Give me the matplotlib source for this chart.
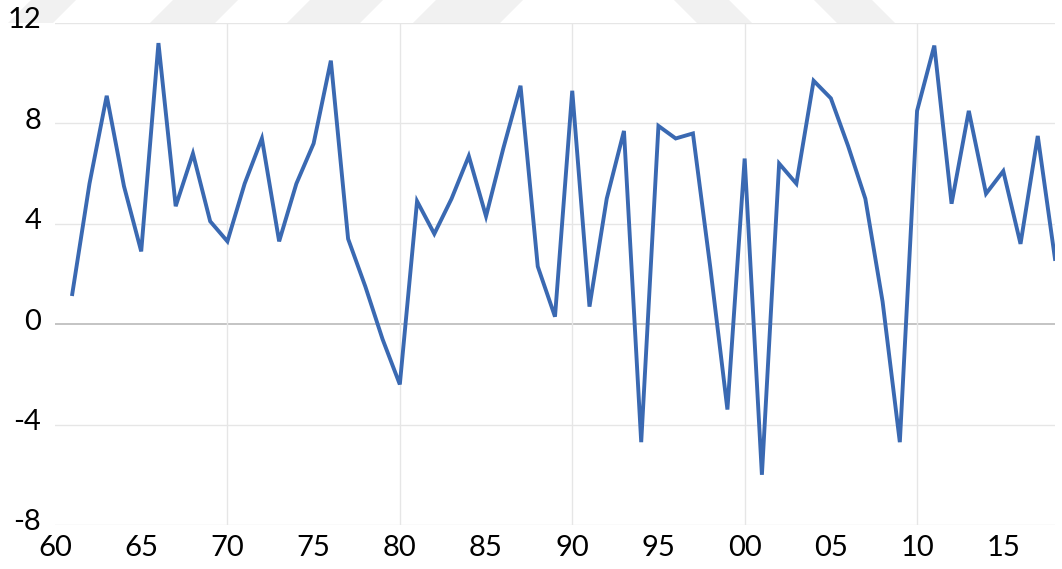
import matplotlib.pyplot as plt
from matplotlib.patches import Polygon
from matplotlib.transforms import ScaledTranslation

# annual growth rate, 1961-2018
years = list(range(1961, 2019))
growth = [1.2, 5.6, 9.1, 5.5, 2.9, 11.2, 4.7, 6.8, 4.1, 3.3,
          5.6, 7.4, 3.3, 5.6, 7.2, 10.5, 3.4, 1.5, -0.6, -2.4,
          4.9, 3.6, 5.0, 6.7, 4.3, 7.0, 9.5, 2.3, 0.3, 9.3,
          0.7, 5.0, 7.7, -4.7, 7.9, 7.4, 7.6, 2.3, -3.4, 6.6,
          -6.0, 6.4, 5.6, 9.7, 9.0, 7.1, 5.0, 0.9, -4.7, 8.5,
          11.1, 4.8, 8.5, 5.2, 6.1, 3.2, 7.5, 2.6]

xticks = list(range(1960, 2019, 5))
xlabels = ['%02d' % (y % 100) for y in xticks]
yticks = [-8, -4, 0, 4, 8, 12]

plt.rcParams['font.family'] = ['Lato', 'DejaVu Sans']
plt.rcParams['axes.unicode_minus'] = False

fig = plt.figure(figsize=(10.62, 5.69), dpi=100)
W, H = 1062, 569

# faint watermark stripes above the plot
stripes = [
    [(8, 23), (53, 23), (76, 0), (31, 0)],
    [(150, 23), (215, 23), (238, 0), (173, 0)],
    [(287, 23), (360, 23), (383, 0), (310, 0)],
    [(413, 23), (500, 23), (523, 0), (436, 0)],
    [(697, 23), (752, 23), (729, 0), (674, 0)],
    [(837, 23), (895, 23), (872, 0), (814, 0)],
]
for s in stripes:
    fig.patches.append(Polygon([(x / W, 1 - y / H) for x, y in s],
                               closed=True, transform=fig.transFigure,
                               facecolor='#f1f1f1', edgecolor='none', zorder=0))

ax = fig.add_axes([55 / W, 1 - 525 / H, 1000 / W, 502 / H])
ax.set_zorder(2)
ax.set_facecolor('white')

for y in yticks:
    ax.axhline(y, color='#bfbfbf' if y == 0 else '#e6e6e6', lw=1.3 if y == 0 else 1.0, zorder=1)
for x in range(1970, 2019, 10):
    ax.axvline(x, color='#e6e6e6', lw=1.0, zorder=1)

ax.plot(years, growth, color='#3a69b2', lw=2.8, zorder=3,
        solid_joinstyle='miter')

ax.set_xlim(1960, 2018)
ax.set_ylim(-8, 12)
ax.set_xticks(xticks)
ax.set_xticklabels(xlabels)
ax.set_yticks(yticks)
ax.tick_params(axis='both', length=0, labelsize=21, colors='black')
ax.tick_params(axis='x', pad=7)
ax.tick_params(axis='y', pad=10)
# y labels sit a little above their gridlines
shift = ScaledTranslation(0, 5 / 100, fig.dpi_scale_trans)
for lab in ax.get_yticklabels():
    lab.set_transform(lab.get_transform() + shift)
for sp in ax.spines.values():
    sp.set_visible(False)

fig.savefig('out.png', dpi=100)
